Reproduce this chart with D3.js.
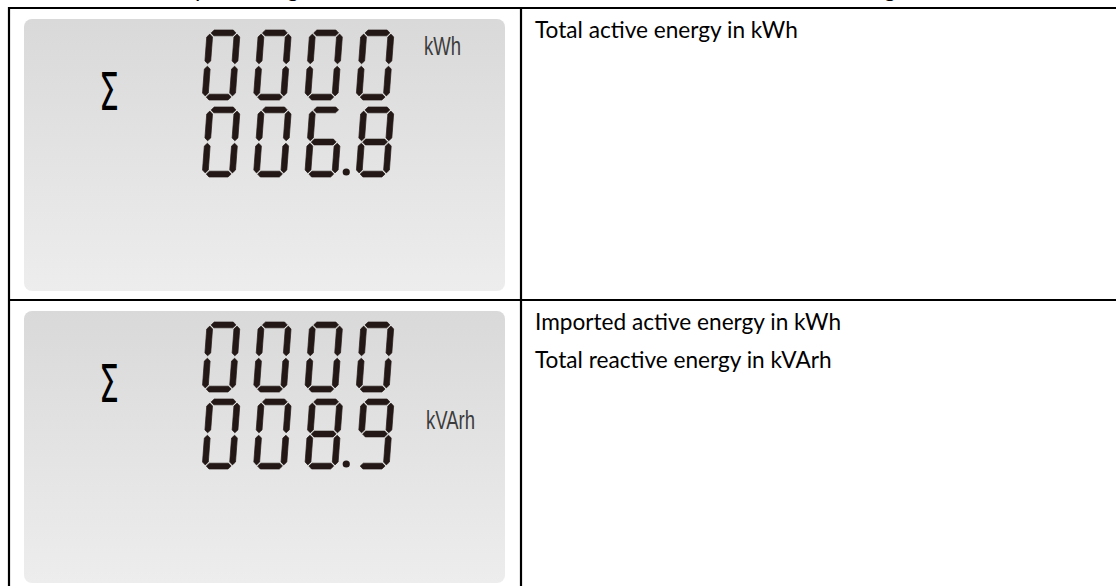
<!DOCTYPE html>
<html><head><meta charset="utf-8">
<script src="https://cdn.jsdelivr.net/npm/d3@7"></script>
<style>
html,body{margin:0;padding:0;background:#fff;overflow:hidden}
svg{display:block}
</style></head>
<body>
<div id="chart"></div>
<script>
// ---- data ----
const symbols = ["Σ", "Σ"];
const topDigits = ["0000", "0000"];
const bottomDigits = ["006.8", "008.9"];
const units = ["kWh", "kVArh"];
const unitRows = [0, 1];
const descriptions = [
  ["Total active energy in kWh"],
  ["Imported active energy in kWh", "Total reactive energy in kVArh"]
];
const captionGlyphs = ["p", "g", "g"];
const captionGlyphX = [195, 287, 884];

const SEG = {
  "0": "abcdef", "1": "bc", "2": "abdeg", "3": "abcdg", "4": "bcfg",
  "5": "acdfg", "6": "acdefg", "7": "abc", "8": "abcdefg", "9": "abcdfg"
};

// ---- layout ----
const W = 1116, H = 586;
const svg = d3.select("#chart").append("svg").attr("width", W).attr("height", H);

const defs = svg.append("defs");
const grad = defs.append("linearGradient").attr("id", "lcd").attr("x1", 0).attr("x2", 0).attr("y1", 0).attr("y2", 1);
grad.append("stop").attr("offset", "0%").attr("stop-color", "#d9d9d9");
grad.append("stop").attr("offset", "100%").attr("stop-color", "#ededed");

const tableLeft = 9, tableTop = 8, divX = 521, rowDiv = 300;
const rowY = d3.scaleOrdinal().domain([0, 1]).range([tableTop, rowDiv]);
const panelY = d3.scaleOrdinal().domain([0, 1]).range([19, 311]);
const panelX0 = 24, panelX1 = 505, panelH = 272;

// caption fragments cut off at top (line above the table)
svg.append("g").selectAll("text").data(captionGlyphs).join("text")
  .attr("x", (d, i) => captionGlyphX[i]).attr("y", -3)
  .attr("font-family", "Lato, sans-serif").attr("font-size", 23)
  .attr("fill", "#000").text(d => d);

const rows = d3.range(2);
const panels = svg.append("g").selectAll("g.panel").data(rows).join("g")
  .attr("class", "panel")
  .attr("transform", d => `translate(${panelX0},${panelY(d)})`);

panels.append("rect")
  .attr("width", panelX1 - panelX0).attr("height", panelH)
  .attr("rx", 8).attr("ry", 8)
  .attr("fill", "url(#lcd)");

// sigma
panels.append("text")
  .attr("transform", "translate(75,91) scale(0.62,1)")
  .attr("font-family", "DejaVu Sans, sans-serif").attr("font-size", 51)
  .attr("fill", "#000").text(d => symbols[d]);

// seven-segment digits
const dw = 33, dh = 70, th = 5.8, gap = 1.2, skew = 0.075;
const digitX = d3.scaleLinear().domain([0, 1]).range([178, 229.3]);
const lineTop = d3.scaleOrdinal().domain([0, 1]).range([11, 88]);

function sk(x, y) { return [x + (dh - y) * skew, y]; }
function hSeg(yc) {
  const x0 = th / 2 + gap, x1 = dw - th / 2 - gap, h2 = th / 2;
  return [[x0, yc], [x0 + h2, yc - h2], [x1 - h2, yc - h2], [x1, yc], [x1 - h2, yc + h2], [x0 + h2, yc + h2]];
}
function vSeg(xc, y0, y1) {
  const h2 = th / 2;
  y0 += gap; y1 -= gap;
  return [[xc, y0], [xc + h2, y0 + h2], [xc + h2, y1 - h2], [xc, y1], [xc - h2, y1 - h2], [xc - h2, y0 + h2]];
}
const segShapes = {
  a: hSeg(th / 2),
  g: hSeg(dh / 2),
  d: hSeg(dh - th / 2),
  f: vSeg(th / 2, th / 2, dh / 2),
  e: vSeg(th / 2, dh / 2, dh - th / 2),
  b: vSeg(dw - th / 2, th / 2, dh / 2),
  c: vSeg(dw - th / 2, dh / 2, dh - th / 2)
};
const line = d3.line().curve(d3.curveLinearClosed);

function parseDigits(str) {
  const out = [];
  for (const ch of str) {
    if (ch === ".") { if (out.length) out[out.length - 1].dot = true; }
    else out.push({ ch, dot: false });
  }
  return out;
}

panels.each(function (r) {
  const p = d3.select(this);
  [topDigits[r], bottomDigits[r]].forEach((str, li) => {
    const digs = parseDigits(str);
    const g = p.append("g").attr("transform", `translate(0,${lineTop(li)})`);
    const dg = g.selectAll("g.digit").data(digs).join("g")
      .attr("class", "digit")
      .attr("transform", (d, i) => `translate(${digitX(i)},0)`);
    dg.selectAll("path").data(d => SEG[d.ch].split("")).join("path")
      .attr("d", s => line(segShapes[s].map(pt => sk(pt[0], pt[1]))))
      .attr("fill", "#231815")
      .attr("stroke", "#231815").attr("stroke-width", 0.7).attr("stroke-linejoin", "round");
    dg.filter(d => d.dot).append("circle")
      .attr("cx", dw + (digitX(1) - digitX(0) - dw) / 2 - 0.5)
      .attr("cy", dh - 5).attr("r", 3.6).attr("fill", "#231815");
  });
});

// units
const unitPos = d3.scaleOrdinal().domain([0, 1]).range([[400, 36], [402, 118]]);
panels.append("text")
  .attr("transform", d => { const p = unitPos(unitRows[d]); return `translate(${p[0]},${p[1]}) scale(0.74,1)`; })
  .attr("font-family", "Liberation Sans, Arial, sans-serif").attr("font-size", 25)
  .attr("fill", "#3c3c3c").text(d => units[d]);

// descriptions (font sized so the first line spans the reference width)
const descLine = d3.scaleLinear().domain([0, 1]).range([30, 67.5]);
const descG = svg.append("g").selectAll("g").data(rows).join("g")
  .attr("transform", d => `translate(535,${rowY(d)})`);
descG.each(function (r) {
  d3.select(this).selectAll("text").data(descriptions[r]).join("text")
    .attr("y", (d, i) => descLine(i))
    .attr("font-family", "Lato, sans-serif").attr("font-size", 20)
    .attr("fill", "#000").text(d => d);
});
const probe = descG.select("text").node();
const fs = Math.min(26, Math.max(16, 20 * 263 / probe.getComputedTextLength()));
descG.selectAll("text").attr("font-size", fs);

// table borders
const borders = svg.append("g").attr("stroke", "#000").attr("stroke-width", 2.2).attr("fill", "none");
borders.append("line").attr("x1", tableLeft).attr("x2", W).attr("y1", tableTop).attr("y2", tableTop);
borders.append("line").attr("x1", tableLeft).attr("x2", W).attr("y1", rowDiv).attr("y2", rowDiv);
borders.append("line").attr("x1", tableLeft).attr("x2", tableLeft).attr("y1", tableTop - 1).attr("y2", H);
borders.append("line").attr("x1", divX).attr("x2", divX).attr("y1", tableTop - 1).attr("y2", H);
</script>
</body></html>
